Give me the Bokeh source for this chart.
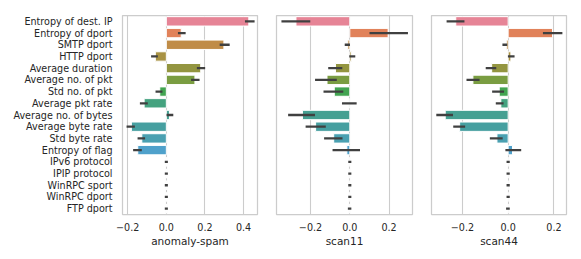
import colorsys
import math

from bokeh.embed import file_html
from bokeh.layouts import row
from bokeh.models import ColumnDataSource, FactorRange, FixedTicker, Range1d
from bokeh.plotting import figure
from bokeh.resources import INLINE

# ---------------- data ----------------
features = [
    "Entropy of dest. IP", "Entropy of dport", "SMTP dport", "HTTP dport",
    "Average duration", "Average no. of pkt", "Std no. of pkt", "Average pkt rate",
    "Average no. of bytes", "Average byte rate", "Std byte rate", "Entropy of flag",
    "IPv6 protocol", "IPIP protocol", "WinRPC sport", "WinRPC dport", "FTP dport",
]

spam_val = [0.427, 0.077, 0.298, -0.057, 0.178, 0.148, -0.034, -0.115,
            0.016, -0.181, -0.127, -0.148, 0.0, 0.0, 0.0, 0.0, 0.0]
spam_lo = [0.413, 0.066, 0.282, -0.073, 0.164, 0.134, -0.050, -0.131,
           0.007, -0.200, -0.143, -0.166, -0.002, -0.002, -0.002, -0.002, -0.002]
spam_hi = [0.451, 0.094, 0.322, -0.050, 0.195, 0.166, -0.026, -0.102,
           0.030, -0.169, -0.116, -0.133, 0.002, 0.002, 0.002, 0.002, 0.002]

scan11_val = [-0.274, 0.195, -0.010, 0.008, -0.073, -0.116, -0.079, -0.003,
              -0.241, -0.174, -0.082, -0.015, 0.0, 0.0, 0.0, 0.0, 0.0]
scan11_lo = [-0.342, 0.106, -0.020, 0.003, -0.104, -0.171, -0.128, -0.034,
             -0.308, -0.219, -0.125, -0.082, -0.002, -0.002, -0.002, -0.002, -0.004]
scan11_hi = [-0.207, 0.290, -0.005, 0.022, -0.044, -0.072, -0.039, 0.029,
             -0.183, -0.128, -0.043, 0.046, 0.002, 0.002, 0.002, 0.002, 0.002]

scan44_val = [-0.229, 0.194, -0.008, 0.012, -0.072, -0.154, -0.039, -0.032,
              -0.275, -0.212, -0.049, 0.019, 0.0, 0.0, 0.0, 0.0, 0.0]
scan44_lo = [-0.264, 0.157, -0.020, 0.004, -0.093, -0.177, -0.065, -0.049,
             -0.309, -0.235, -0.075, -0.007, -0.002, -0.002, -0.002, -0.002, -0.004]
scan44_hi = [-0.196, 0.232, -0.009, 0.023, -0.057, -0.130, -0.023, -0.025,
             -0.246, -0.193, -0.029, 0.052, 0.002, 0.002, 0.002, 0.002, 0.002]

titles = ["anomaly-spam", "scan11", "scan44"]
tick_sets = [[-0.2, 0.0, 0.2, 0.4], [-0.2, 0.0, 0.2], [-0.2, 0.0, 0.2]]
x_limits = [(-0.227, 0.472), (-0.373, 0.319), (-0.335, 0.255)]

# ---------------- husl palette (seaborn style) ----------------
M = [[3.2406, -1.5372, -0.4986], [-0.9689, 1.8758, 0.0415], [0.0557, -0.2040, 1.0570]]
refU, refV, lab_e, lab_k = 0.19784, 0.46834, 0.008856, 903.3


def max_chroma(L, H):
    hrad = math.radians(H)
    sinH, cosH = math.sin(hrad), math.cos(hrad)
    sub1 = (L + 16) ** 3 / 1560896.0
    sub2 = sub1 if sub1 > lab_e else L / lab_k
    result = float("inf")
    for m1, m2, m3 in M:
        top = (0.99915 * m1 + 1.05122 * m2 + 1.14460 * m3) * sub2
        rbottom = 0.86330 * m3 - 0.17266 * m2
        lbottom = 0.12949 * m3 - 0.38848 * m1
        bottom = (rbottom * sinH + lbottom * cosH) * sub2
        for t in (0.0, 1.0):
            C = L * (top - 1.05122 * t) / (bottom + 0.17266 * sinH * t)
            if 0 < C < result:
                result = C
    return result


def f_inv(t):
    return t ** 3 if t ** 3 > lab_e else (116 * t - 16) / lab_k


def from_linear(c):
    return 12.92 * c if c <= 0.0031308 else 1.055 * c ** (1 / 2.4) - 0.055


def husl_to_rgb(h, s, l):
    C = max_chroma(l, h) / 100 * s
    hr = math.radians(h)
    U, V = math.cos(hr) * C, math.sin(hr) * C
    varY = f_inv((l + 16) / 116)
    varU = U / (13 * l) + refU
    varV = V / (13 * l) + refV
    Y = varY
    X = 0 - (9 * Y * varU) / ((varU - 4) * varV - varU * varV)
    Z = (9 * Y - 15 * varV * Y - varV * X) / (3 * varV)
    rgb = [from_linear(r[0] * X + r[1] * Y + r[2] * Z) for r in M]
    return [min(1, max(0, c)) for c in rgb]


n = len(features)
raw = []
for i in range(n):
    h = ((i / n) + 0.01) % 1 * 359
    raw.append(husl_to_rgb(h, 0.9 * 99, 0.65 * 100))
lum = min(colorsys.rgb_to_hls(*c)[1] for c in raw) * 0.6
err_color = "#{0:02x}{0:02x}{0:02x}".format(round(lum * 255))
colors = []
for c in raw:
    hh, ll, ss = colorsys.rgb_to_hls(*c)
    r, g, b = colorsys.hls_to_rgb(hh, ll, ss * 0.75)
    colors.append("#%02x%02x%02x" % (round(r * 255), round(g * 255), round(b * 255)))

# ---------------- plotting ----------------
FONT = "DejaVu Sans"
TEXT = "#262626"
GRID = "#cccccc"

panels = [(spam_val, spam_lo, spam_hi), (scan11_val, scan11_lo, scan11_hi),
          (scan44_val, scan44_lo, scan44_hi)]
frame_widths = [135, 136, 135]
left_borders = [122, 9, 9]
right_borders = [10, 10, 5]

figs = []
for k, (vals, lo, hi) in enumerate(panels):
    src = ColumnDataSource(dict(feat=features, val=vals, lo=lo, hi=hi, color=colors))
    p = figure(
        y_range=FactorRange(factors=list(reversed(features))),
        x_range=Range1d(*x_limits[k]),
        frame_width=frame_widths[k], frame_height=199,
        min_border_left=left_borders[k], min_border_right=right_borders[k],
        min_border_top=15, min_border_bottom=40,
        output_backend="svg", toolbar_location=None,
    )
    p.background_fill_color = "white"
    p.border_fill_color = "white"
    p.outline_line_color = GRID
    p.outline_line_width = 1.25

    p.ygrid.visible = False
    p.xgrid.grid_line_color = GRID
    p.xgrid.grid_line_width = 1.1
    p.xaxis.ticker = FixedTicker(ticks=tick_sets[k])
    p.xaxis.major_label_overrides = {
        t: (("\u2212" if t < 0 else "") + "%.1f" % abs(t)) for t in tick_sets[k]
    }

    for ax in (p.xaxis, p.yaxis):
        ax.axis_line_color = None
        ax.major_tick_line_color = None
        ax.minor_tick_line_color = None
        ax.major_tick_in = 0
        ax.major_tick_out = 0
        ax.major_label_text_font = FONT
        ax.major_label_text_font_size = "9.6px"
        ax.major_label_text_color = TEXT
    p.xaxis.major_label_standoff = 8
    p.xaxis.axis_label = titles[k]
    p.xaxis.axis_label_text_font = FONT
    p.xaxis.axis_label_text_font_size = "10.5px"
    p.xaxis.axis_label_text_font_style = "normal"
    p.xaxis.axis_label_text_color = TEXT
    p.xaxis.axis_label_standoff = 1
    p.yaxis.major_label_standoff = 10
    if k > 0:
        p.yaxis.visible = False

    p.hbar(y="feat", left=0, right="val", height=0.8, source=src,
           fill_color="color", line_color="white", line_width=1.0)
    p.segment(x0="lo", y0="feat", x1="hi", y1="feat", source=src,
              line_color=err_color, line_width=2.3, line_cap="square")
    figs.append(p)

layout = row(*figs, spacing=0)
open("out.html", "w").write(file_html(layout, INLINE))
